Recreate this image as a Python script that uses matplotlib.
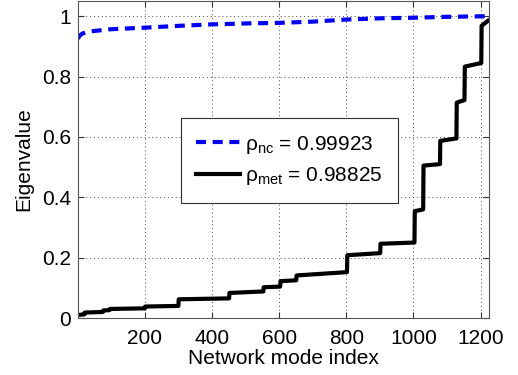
import numpy as np
import matplotlib
matplotlib.use('Agg')
import matplotlib.pyplot as plt

plt.rcParams['font.family'] = ['Liberation Sans', 'DejaVu Sans']
plt.rcParams['mathtext.fontset'] = 'custom'
plt.rcParams['mathtext.rm'] = 'Liberation Sans'
plt.rcParams['mathtext.it'] = 'Liberation Sans'
plt.rcParams['mathtext.default'] = 'regular'

# blue dashed curve (rho_nc)
nc_x = [1, 5, 15, 40, 100, 200, 300, 400, 500, 600, 700, 800, 900, 1000, 1100, 1222]
nc_y = [0.925, 0.935, 0.943, 0.950, 0.957, 0.962, 0.968, 0.973, 0.976, 0.978,
        0.982, 0.989, 0.993, 0.995, 0.998, 1.0]

# black step curve (rho_met)
met_x = [1, 20, 21, 75, 76, 95, 96, 200, 201, 300, 301, 451, 452, 553, 554,
         603, 604, 651, 652, 802, 803, 901, 902, 1003, 1004, 1029, 1030, 1079,
         1080, 1128, 1129, 1152, 1153, 1202, 1203, 1222]
met_y = [0.010, 0.012, 0.018, 0.020, 0.025, 0.026, 0.030, 0.032, 0.038, 0.040,
         0.062, 0.065, 0.083, 0.088, 0.102, 0.104, 0.122, 0.125, 0.141, 0.152,
         0.208, 0.215, 0.246, 0.250, 0.354, 0.360, 0.505, 0.510, 0.587, 0.595,
         0.714, 0.722, 0.833, 0.845, 0.968, 0.985]

labels = [r'$\rho_{nc}$ = 0.99923', r'$\rho_{met}$ = 0.98825']
xticks = [200, 400, 600, 800, 1000, 1200]
yticks = [0, 0.2, 0.4, 0.6, 0.8, 1]

fig = plt.figure(figsize=(5.18, 3.75), dpi=100)
ax = fig.add_axes([0.1506, 0.152, 0.7934, 0.845])

ax.plot(nc_x, nc_y, color='#0000ee', lw=3, dashes=(2.4, 1.6), label=labels[0])
ax.plot(met_x, met_y, color='black', lw=3, label=labels[1])

ax.set_xlim(1, 1225)
ax.set_ylim(0, 1.05)
ax.set_xticks(xticks)
ax.set_yticks(yticks)
ax.set_yticklabels(['0', '0.2', '0.4', '0.6', '0.8', '1'])
ax.tick_params(direction='in', top=True, right=True, labelsize=15, length=4,
               color='#333333')
ax.tick_params(axis='x', pad=8)
ax.tick_params(axis='y', pad=5)
for s in ax.spines.values():
    s.set_color('#555555')
    s.set_linewidth(0.8)
ax.grid(True, linestyle=(0, (1, 3)), color='#444444', lw=0.7)

ax.set_xlabel('Network mode index', fontsize=15, labelpad=1)
ax.set_ylabel('Eigenvalue', fontsize=15, labelpad=6)

leg = ax.legend(loc='upper left', bbox_to_anchor=(0.25, 0.631), borderaxespad=0,
                fontsize=15, fancybox=False, framealpha=1, edgecolor='#333333',
                handlelength=2.1, handletextpad=0.25, labelspacing=0.45,
                borderpad=0.75)
leg.get_frame().set_linewidth(0.8)

fig.savefig('out.png', dpi=100)
